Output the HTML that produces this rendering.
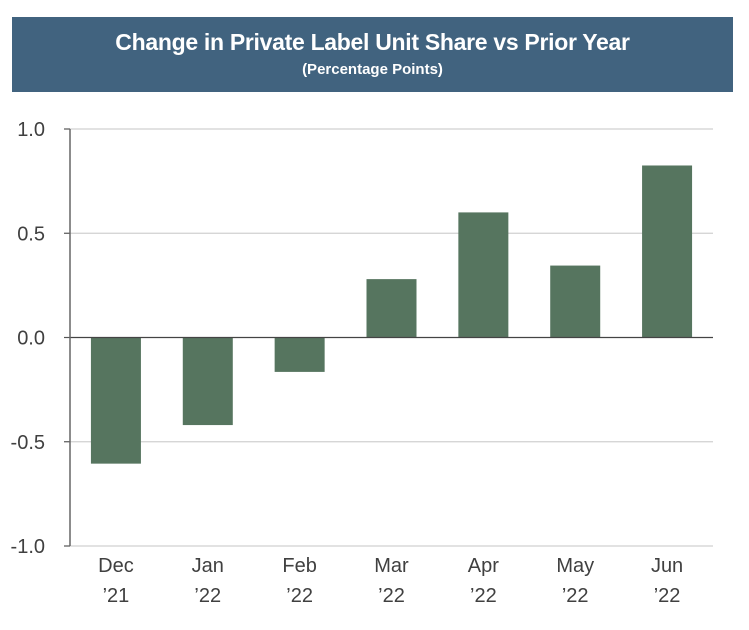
<!DOCTYPE html>
<html><head><meta charset="utf-8"><style>
body{margin:0;background:#fff;width:749px;height:630px;overflow:hidden;font-family:"Liberation Sans",sans-serif}
#banner{position:absolute;left:12px;top:17px;width:721px;height:75px;background:#41637f;color:#fff;text-align:center}
#t1{font-size:23px;font-weight:bold;margin-top:12px;letter-spacing:-0.3px}
#t2{font-size:15px;font-weight:bold;margin-top:5px}
svg{position:absolute;left:0;top:0}
</style></head><body>
<div id="banner">
<div id="t1">Change in Private Label Unit Share vs Prior Year</div>
<div id="t2">(Percentage Points)</div>
</div>
<svg id="c" width="749" height="630"></svg>
<script>
const categories=["Dec","Jan","Feb","Mar","Apr","May","Jun"];
const years=["\u201921","\u201922","\u201922","\u201922","\u201922","\u201922","\u201922"];
const values=[-0.605,-0.42,-0.165,0.28,0.60,0.345,0.825];
const ticks=[1.0,0.5,0.0,-0.5,-1.0];
const tickLabels=["1.0","0.5","0.0","-0.5","-1.0"];
const svg=document.getElementById('c');
const NS='http://www.w3.org/2000/svg';
const x0=70,x1=713,yTop=129,yBot=546,vMin=-1,vMax=1;
const y=v=>yBot-(v-vMin)/(vMax-vMin)*(yBot-yTop);
const bw=(x1-x0)/categories.length;
const xc=i=>x0+bw*(i+0.5);
function mk(t,a){const e=document.createElementNS(NS,t);for(const k in a)e.setAttribute(k,a[k]);svg.appendChild(e);return e;}
ticks.forEach((v,i)=>{
  if(v!==0&&v!==-1){const g=mk('line',{x1:x0,x2:x1,y1:y(v),y2:y(v),stroke:'#d0d0d0','stroke-width':1.2});
  
  }
  const tk=mk('line',{x1:x0-6,x2:x0,y1:y(v),y2:y(v),stroke:'#555','stroke-width':1.2});
  
  
  const t=mk('text',{x:45,y:y(v)+7,'text-anchor':'end','font-size':20,fill:'#404040'});
  t.textContent=tickLabels[i];
  
  
});
const bl=mk('line',{x1:x0,x2:x1,y1:y(-1),y2:y(-1),stroke:'#d0d0d0','stroke-width':1.2});


values.forEach((v,i)=>{
  const top=Math.min(y(v),y(0)),h=Math.abs(y(v)-y(0));
  const r=mk('rect',{x:xc(i)-25,y:top,width:50,height:h,fill:'#56755f'});
  
  
  const a=mk('text',{x:xc(i),y:572,'text-anchor':'middle','font-size':20,fill:'#404040'});
  a.textContent=categories[i];
  
  
  const b=mk('text',{x:xc(i),y:602,'text-anchor':'middle','font-size':20,fill:'#404040'});
  b.textContent=years[i];
  
  
});
const z=mk('line',{x1:x0,x2:x1,y1:y(0),y2:y(0),stroke:'#444','stroke-width':1.3});


const ax=mk('line',{x1:x0,x2:x0,y1:yTop,y2:yBot,stroke:'#666','stroke-width':1.5});


</script>
</body></html>
